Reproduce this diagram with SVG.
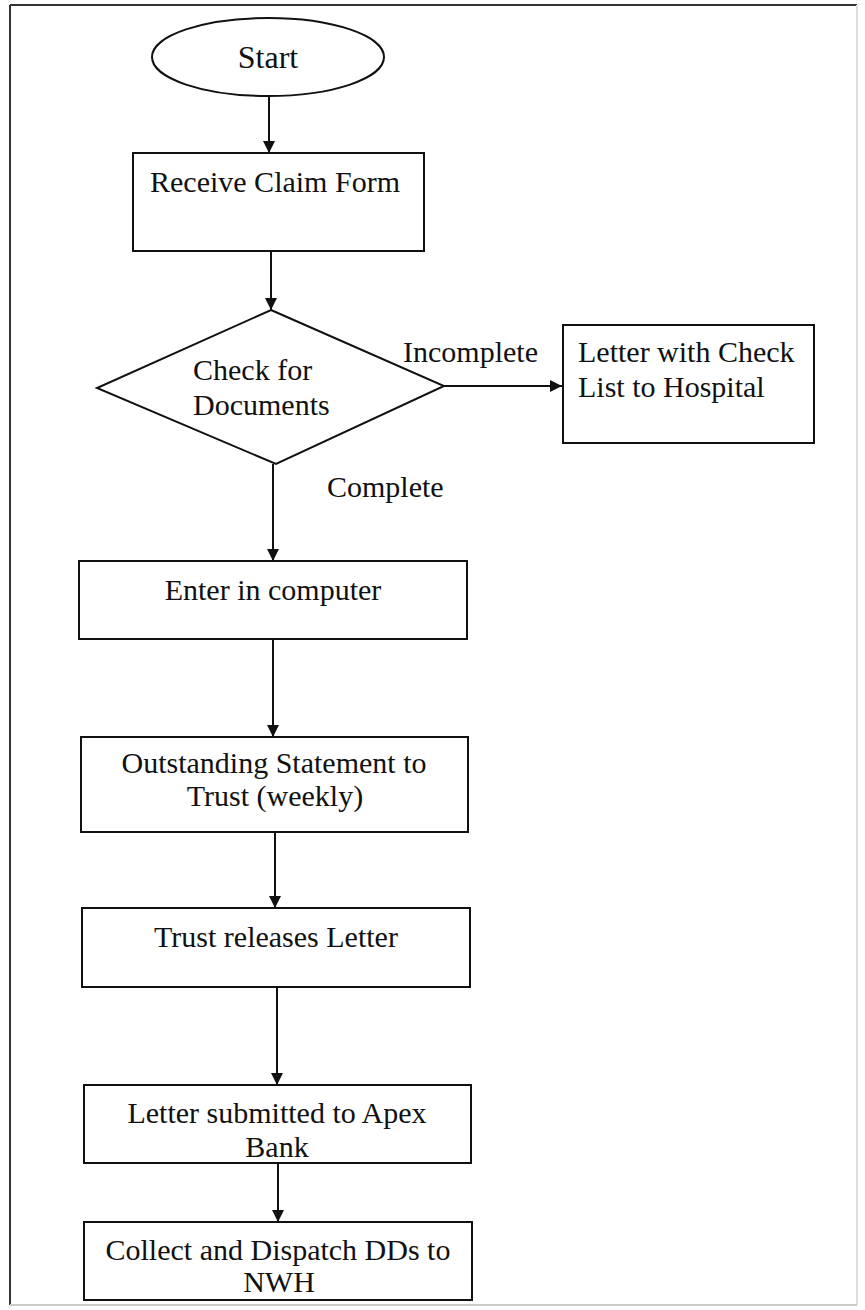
<svg xmlns="http://www.w3.org/2000/svg" width="865" height="1310" viewBox="0 0 865 1310">
<style>
.shape{fill:#fff;stroke:#111;stroke-width:2}
.lbl{font-family:"Liberation Serif","Times New Roman",serif;font-size:30px;fill:#111}
.mid{text-anchor:middle}
.conn{stroke:#111;stroke-width:2;fill:none;marker-end:url(#ah)}
</style>
<defs>
<marker id="ah" markerUnits="userSpaceOnUse" markerWidth="12" markerHeight="12" refX="12" refY="6" orient="auto">
<path d="M0,0 L12,6 L0,12 z" fill="#111"/>
</marker>
</defs>
<rect x="0" y="0" width="865" height="1310" fill="#fff"/>
<g id="frame">
<line x1="10" y1="5" x2="10" y2="1305" stroke="#333" stroke-width="2"/>
<line x1="10" y1="5" x2="857" y2="5" stroke="#333" stroke-width="2"/>
<line x1="857" y1="5" x2="857" y2="1305" stroke="#ddd" stroke-width="2"/>
<line x1="10" y1="1305" x2="857" y2="1305" stroke="#ccc" stroke-width="2"/>
</g>
<g id="connectors">
<line class="conn" x1="269" y1="96" x2="269" y2="153"/>
<line class="conn" x1="271" y1="252" x2="271" y2="310"/>
<line class="conn" x1="444" y1="386" x2="562" y2="386"/>
<line class="conn" x1="273" y1="464" x2="273" y2="561"/>
<line class="conn" x1="273" y1="639" x2="273" y2="737"/>
<line class="conn" x1="275" y1="832" x2="275" y2="908"/>
<line class="conn" x1="277" y1="987" x2="277" y2="1085"/>
<line class="conn" x1="278" y1="1163" x2="278" y2="1222"/>
<text class="lbl" x="403" y="362">Incomplete</text>
<text class="lbl" x="327" y="497">Complete</text>
</g>
<g id="start">
<ellipse class="shape" cx="268" cy="57" rx="116" ry="39"/>
<text class="lbl mid" x="268" y="68" style="font-size:32px">Start</text>
</g>
<g id="receive">
<rect class="shape" x="133" y="153" width="291" height="98"/>
<text class="lbl mid" x="275" y="192">Receive Claim Form</text>
</g>
<g id="check">
<polygon class="shape" points="271,310 444,386 276,464 97,388"/>
<text class="lbl" x="193" y="380">Check for</text>
<text class="lbl" x="193" y="415">Documents</text>
</g>
<g id="letterHospital">
<rect class="shape" x="563" y="325" width="251" height="118"/>
<text class="lbl" x="578" y="362">Letter with Check</text>
<text class="lbl" x="578" y="397">List to Hospital</text>
</g>
<g id="enter">
<rect class="shape" x="79" y="561" width="388" height="78"/>
<text class="lbl mid" x="273" y="600">Enter in computer</text>
</g>
<g id="outstanding">
<rect class="shape" x="81" y="737" width="387" height="95"/>
<text class="lbl mid" x="274" y="773">Outstanding Statement to</text>
<text class="lbl mid" x="275" y="806">Trust (weekly)</text>
</g>
<g id="trust">
<rect class="shape" x="82" y="908" width="388" height="79"/>
<text class="lbl mid" x="276" y="947">Trust releases Letter</text>
</g>
<g id="apex">
<rect class="shape" x="84" y="1085" width="387" height="78"/>
<text class="lbl mid" x="277" y="1123">Letter submitted to Apex</text>
<text class="lbl mid" x="277" y="1157">Bank</text>
</g>
<g id="collect">
<rect class="shape" x="84" y="1222" width="388" height="78"/>
<text class="lbl mid" x="278" y="1260">Collect and Dispatch DDs to</text>
<text class="lbl mid" x="279" y="1292">NWH</text>
</g>
</svg>
